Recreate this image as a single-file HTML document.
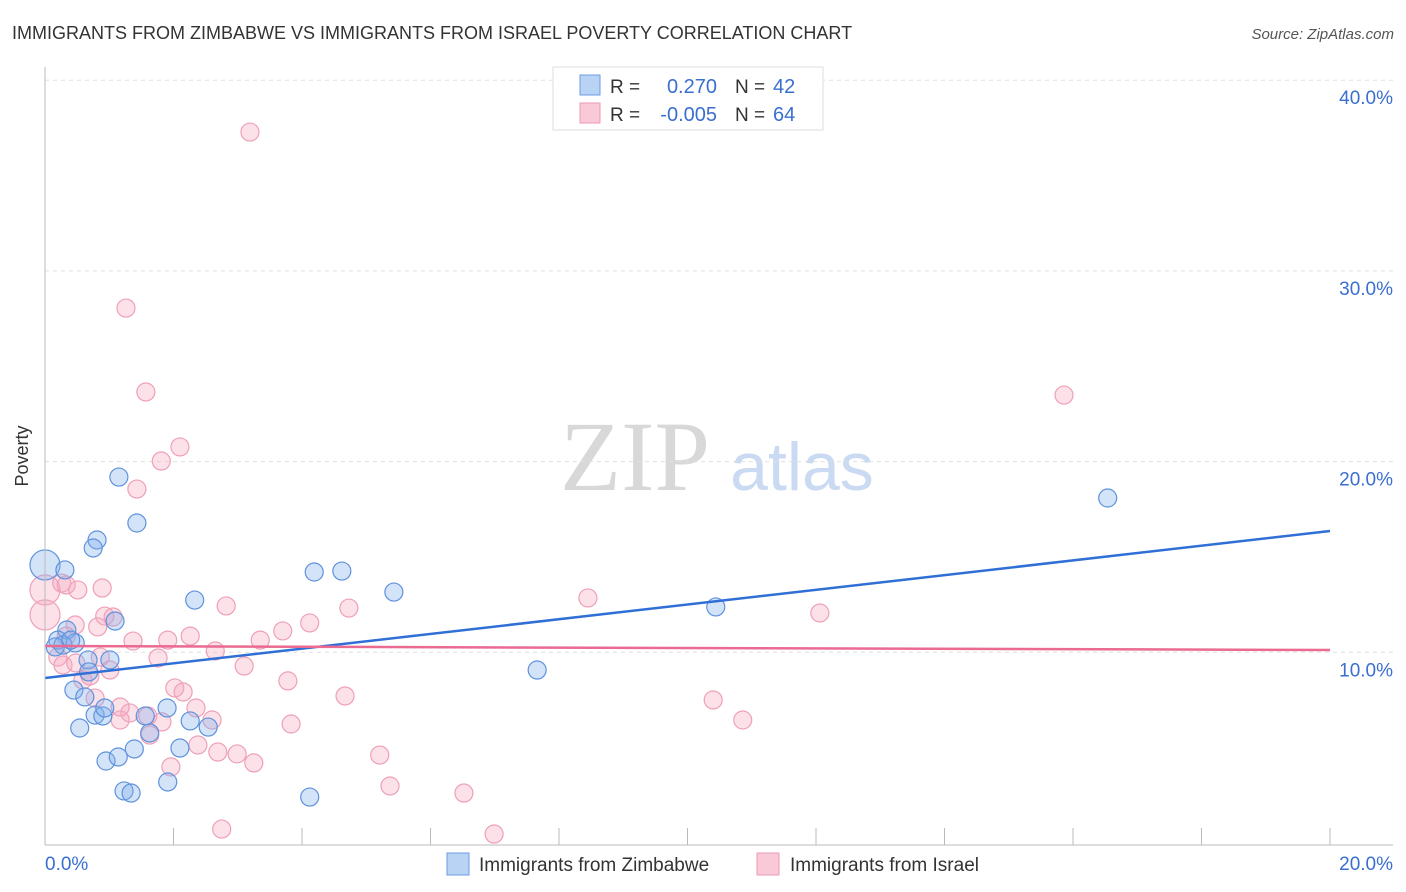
<!DOCTYPE html>
<html><head><meta charset="utf-8"><style>
body{margin:0;background:#fff;font-family:"Liberation Sans",sans-serif}
#wrap{position:relative;width:1406px;height:892px;overflow:hidden}
</style></head><body><div id="wrap">
<svg id="svg" width="1406" height="892" xmlns="http://www.w3.org/2000/svg">
<text x="12" y="39" font-size="18" fill="#333">IMMIGRANTS FROM ZIMBABWE VS IMMIGRANTS FROM ISRAEL POVERTY CORRELATION CHART</text>
<text x="1394" y="39" font-size="15" fill="#555" font-style="italic" text-anchor="end">Source: ZipAtlas.com</text>
<text x="635" y="490" font-size="100" fill="#d8d8d8" font-family="Liberation Serif,serif" text-anchor="middle">ZIP</text>
<text x="802" y="490" font-size="68" fill="#c9daf2" text-anchor="middle">atlas</text>
<g id="grid"></g><g id="marks"></g><g id="lines"></g>
<line x1="45" y1="67" x2="45" y2="845" stroke="#bbb"/>
<line x1="45" y1="845" x2="1393" y2="845" stroke="#bbb"/>
<text x="28" y="456" font-size="18" fill="#333" text-anchor="middle" transform="rotate(-90 28 456)">Poverty</text>
<text x="45" y="870" font-size="19" fill="#3a6fd0">0.0%</text>
<text x="1393" y="870" font-size="19" fill="#3a6fd0" text-anchor="end">20.0%</text>
<g>
<rect x="553" y="67" width="270" height="63" fill="#fff" stroke="#ddd"/>
<rect x="580" y="75" width="20" height="20" fill="#b9d3f5" stroke="#6a9be0"/>
<rect x="580" y="103" width="20" height="20" fill="#f9c9d7" stroke="#ec9ab3"/>
<text x="610" y="93" font-size="19" fill="#333">R = </text><text x="717" y="93" font-size="20" fill="#3a6fd0" text-anchor="end">0.270</text>
<text x="735" y="93" font-size="19" fill="#333">N = </text><text x="773" y="93" font-size="20" fill="#3a6fd0">42</text>
<text x="610" y="121" font-size="19" fill="#333">R = </text><text x="717" y="121" font-size="20" fill="#3a6fd0" text-anchor="end">-0.005</text>
<text x="735" y="121" font-size="19" fill="#333">N = </text><text x="773" y="121" font-size="20" fill="#3a6fd0">64</text>
</g>
<g>
<rect x="447" y="853" width="22" height="22" fill="#b9d3f5" stroke="#6a9be0"/>
<text x="479" y="871" font-size="19" fill="#333">Immigrants from Zimbabwe</text>
<rect x="757" y="853" width="22" height="22" fill="#f9c9d7" stroke="#ec9ab3"/>
<text x="790" y="871" font-size="19" fill="#333">Immigrants from Israel</text>
</g>
</svg></div>
<script>
const yTicks=[10,20,30,40];
const xTickCount=10;
const blueX=[0.00,0.31,0.81,0.75,1.15,1.43,0.34,0.20,0.47,0.28,0.16,0.67,1.01,1.09,0.68,0.45,0.62,0.54,0.78,0.90,0.93,1.56,1.90,1.63,2.10,2.26,2.54,1.39,0.95,1.14,1.23,1.34,1.91,4.12,4.19,4.62,5.43,2.33,7.66,10.44,16.54,0.40];
const blueY=[14.58,14.32,15.89,15.47,19.19,16.78,11.17,10.64,10.49,10.38,10.28,9.60,9.60,11.64,8.97,8.02,7.66,6.03,6.71,6.66,7.08,6.66,7.08,5.77,4.98,6.40,6.08,4.93,4.30,4.51,2.73,2.62,3.20,2.41,14.21,14.26,13.16,12.74,9.07,12.38,18.09,10.64];
const pinkX=[3.19,1.26,1.57,2.10,1.81,1.43,15.86,0,0,0.26,0.33,0.89,0.93,0.82,1.37,1.06,0.47,0.20,0.28,0.86,0.59,1.01,0.48,0.78,0.70,1.32,1.63,1.17,1.60,1.76,1.91,2.26,1.82,2.02,2.15,2.35,2.60,2.38,1.96,2.69,2.99,3.25,2.75,2.65,2.82,3.35,3.10,3.70,3.78,3.83,4.12,4.73,4.67,5.21,5.37,6.52,6.99,8.45,10.40,10.86,12.06,0.51,1.17,0.33];
const pinkY=[37.28,28.05,23.65,20.77,20.03,18.56,23.49,13.27,11.96,13.63,13.53,13.37,11.90,11.33,10.59,11.85,11.43,9.75,9.33,9.75,8.55,9.07,9.44,7.60,8.76,6.82,5.66,6.45,6.66,9.70,10.64,10.85,6.35,8.13,7.92,7.08,6.45,5.14,3.99,4.77,4.67,4.20,0.73,10.07,12.43,10.64,9.28,11.12,8.50,6.24,11.54,12.32,7.71,4.61,2.99,2.62,0.47,12.85,7.50,6.45,12.06,13.27,7.13,10.85];
const blueTrend=[8.65,16.36];
const pinkTrend=[10.33,10.12];
const xs=v=>45+v/20*1285, ys=v=>843-v*19.07;
const NS="http://www.w3.org/2000/svg";
function mk(tag,attrs,parent){const e=document.createElementNS(NS,tag);for(const k in attrs)e.setAttribute(k,attrs[k]);document.getElementById(parent).appendChild(e);return e;}
yTicks.forEach(t=>{
 const g=mk('line',{x1:45,x2:1393,y1:ys(t),y2:ys(t),stroke:'#e0e0e0','stroke-dasharray':'4,4'},'grid');
 
 
 const l=mk('text',{x:1393,y:ys(t)+24,'font-size':19,fill:'#3a6fd0','text-anchor':'end'},'grid');
 l.textContent=t.toFixed(1)+'%';
 
 
});
for(let i=1;i<=xTickCount;i++){
 const t=mk('line',{x1:xs(i*2),x2:xs(i*2),y1:828,y2:845,stroke:'#bbb'},'grid');
 
 
}
function pts(X,Y,fill,stroke,name,bigIdx){
 X.forEach((x,i)=>{
  const r=bigIdx.includes(i)?15:9;
  const c=mk('circle',{cx:xs(x),cy:ys(Y[i]),r:r,fill:fill,stroke:stroke,'stroke-width':1.2},'marks');
  
  
 });
}
pts(pinkX,pinkY,'rgba(246,170,193,0.35)','#eea0b8','israel-point',[7,8]);
pts(blueX,blueY,'rgba(130,175,235,0.35)','#5f92dd','zimbabwe-point',[0]);
const bl=mk('line',{x1:xs(0),y1:ys(blueTrend[0]),x2:xs(20),y2:ys(blueTrend[1]),stroke:'#2f6fd6','stroke-width':2.5},'lines');


const pl=mk('line',{x1:xs(0),y1:ys(pinkTrend[0]),x2:xs(20),y2:ys(pinkTrend[1]),stroke:'#ea6a92','stroke-width':2.5},'lines');


</script></body></html>
